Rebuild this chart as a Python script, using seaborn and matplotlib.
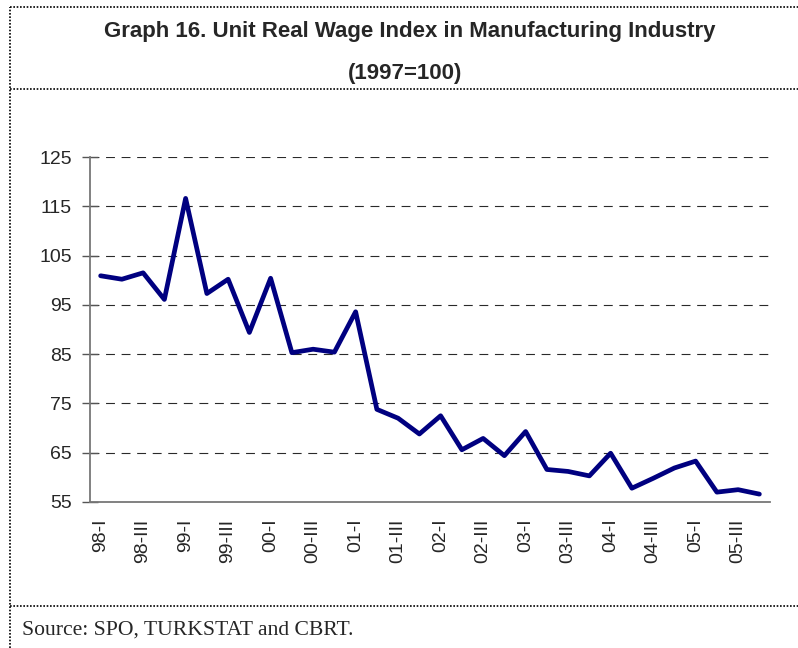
import matplotlib
matplotlib.use("Agg")
import matplotlib.pyplot as plt
from matplotlib.lines import Line2D
import seaborn as sns
import pandas as pd
import numpy as np

# quarterly values, 98-I .. 05-IV (1997=100)
quarters = [f"{y:02d}-{q}" for y in [98, 99, 0, 1, 2, 3, 4, 5] for q in ["I", "II", "III", "IV"]]
wage_index = [100.9, 100.2, 101.5, 96.1, 116.6, 97.3, 100.2, 89.4,
              100.4, 85.3, 86.0, 85.4, 93.6, 73.8, 72.0, 68.8,
              72.5, 65.6, 67.9, 64.4, 69.3, 61.6, 61.2, 60.3,
              64.9, 57.8, 59.8, 61.9, 63.3, 57.0, 57.5, 56.6]
y_ticks = [55, 65, 75, 85, 95, 105, 115, 125]

df = pd.DataFrame({"pos": np.arange(len(quarters)), "quarter": quarters, "value": wage_index})

sns.set_style("white")
plt.rcParams["font.family"] = ["Liberation Sans", "DejaVu Sans"]

fig = plt.figure(figsize=(7.98, 6.48), dpi=100)
ax = fig.add_axes([90/798, 1-502/648, 680/798, 345/648])

sns.lineplot(data=df, x="pos", y="value", color="#000080", lw=3.4, ax=ax)

ax.set_xlim(-0.5, len(quarters) - 0.5)
ax.set_ylim(55, 125)
ax.set_yticks(y_ticks)
ax.set_yticklabels([str(v) for v in y_ticks], fontsize=14)
ax.set_xticks(df["pos"][::2])
ax.set_xticklabels(df["quarter"][::2], rotation=90, fontsize=14)
ax.set_xticks(np.arange(-0.5, len(quarters)), minor=True)
ax.tick_params(axis="x", which="major", length=0, pad=12)
ax.tick_params(axis="x", which="minor", length=6, width=1, color="#555555", direction="out")
ax.tick_params(axis="y", length=12, width=1, color="#555555", direction="inout", pad=7, left=True)
ax.set_xlabel("")
ax.set_ylabel("")

for v in y_ticks[1:]:
    ax.axhline(v, color="#2a2a2a", lw=0.8, ls=(0, (8, 6)), zorder=0)

for s in ["top", "right"]:
    ax.spines[s].set_visible(False)
for s in ["left", "bottom"]:
    ax.spines[s].set_color("#777777")
    ax.spines[s].set_linewidth(1.3)

# dotted frame lines
dot = dict(color="black", lw=1.2, ls=(0, (1, 1)), transform=fig.transFigure)
fig.add_artist(Line2D([10/798, 10/798], [0, 1-7/648], **dot))
fig.add_artist(Line2D([10/798, 1], [1-7/648, 1-7/648], **dot))
fig.add_artist(Line2D([10/798, 1], [1-89/648, 1-89/648], **dot))
fig.add_artist(Line2D([10/798, 1], [1-606/648, 1-606/648], **dot))

title_font = ["Liberation Sans Narrow", "Liberation Sans", "DejaVu Sans"]
fig.text(0.513, 1-32/648, "Graph 16. Unit Real Wage Index in Manufacturing Industry",
         ha="center", va="center", fontsize=16, fontweight="bold", family=title_font)
fig.text(0.507, 1-73/648, "(1997=100)", ha="center", va="center",
         fontsize=16, fontweight="bold", family=title_font)
fig.text(22/798, 1-635/648, "Source: SPO, TURKSTAT and CBRT.", ha="left", va="baseline",
         fontsize=15.6, family=["Liberation Serif", "DejaVu Serif"])

fig.savefig("out.png", dpi=100)
